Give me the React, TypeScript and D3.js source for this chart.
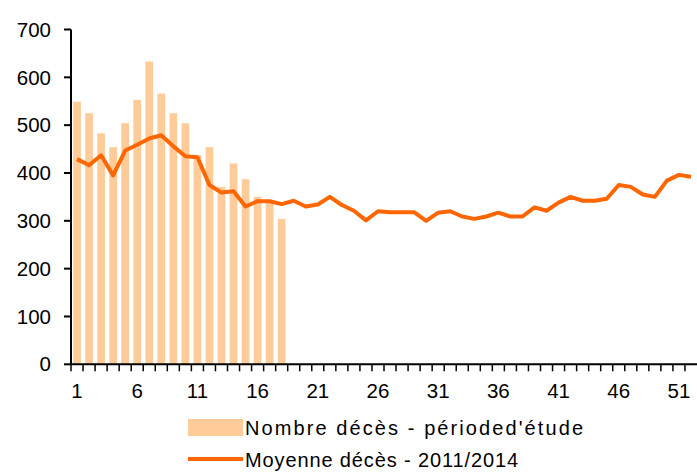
import React from "react";
import * as d3 from "d3";

const weeks: number[] = Array.from({ length: 52 }, (_, i) => i + 1);
const barValues: number[] = [549, 525, 483, 454, 504, 553, 633, 566, 525, 504, 437, 454, 371, 420, 387, 350, 340, 304];
const lineValues: number[] = [
  429, 416, 437, 395, 447, 459, 472, 479, 456, 435,
  433, 375, 359, 362, 330, 341, 341, 335, 342, 330,
  334, 350, 333, 321, 301, 320, 318, 318, 318, 300,
  317, 320, 309, 304, 309, 317, 309, 309, 328, 321,
  338, 350, 342, 342, 346, 375, 371, 355, 350, 384,
  396, 392,
];
const yTicks: number[] = [0, 100, 200, 300, 400, 500, 600, 700];
const xLabelWeeks: number[] = [1, 6, 11, 16, 21, 26, 31, 36, 41, 46, 51];
const barLabel = "Nombre décès - périoded'étude";
const lineLabel = "Moyenne décès - 2011/2014";

export default function App() {
  const W = 697, H = 472;
  const left = 71, right = 697, top = 29.5, bottom = 364.3;
  const x = d3.scaleBand<number>().domain(weeks).range([left, right]).paddingInner(0.36).paddingOuter(0.18);
  const step = x.step();
  const y = d3.scaleLinear().domain([0, 700]).range([bottom, top]);
  const line = d3.line<number>().x((_, i) => left + step * (i + 0.5)).y((v) => y(v));
  const font = "'Liberation Sans', Arial, sans-serif";
  return (
    <svg width={W} height={H} style={{ position: "absolute", left: 0, top: 0 }} fontFamily={font}>
      {barValues.map((v, i) => (
        <rect key={i} x={x(weeks[i])} y={y(v)} width={x.bandwidth()} height={y(0) - y(v)} fill="#FFCC99" />
      ))}
      <path d={line(lineValues) || ""} fill="none" stroke="#FF6600" strokeWidth={4} strokeLinejoin="round" />
      <line x1={left} x2={left} y1={top} y2={bottom} stroke="#000" strokeWidth={2} />
      <line x1={left} x2={right} y1={bottom} y2={bottom} stroke="#000" strokeWidth={2} />
      {yTicks.map((t) => (
        <g key={t}>
          <line x1={left - 7} x2={left} y1={y(t)} y2={y(t)} stroke="#000" strokeWidth={2} />
          <text x={51} y={y(t)} dy="0.35em" textAnchor="end" fontSize={20.5} fill="#000">{t}</text>
        </g>
      ))}
      {weeks.map((w, i) => (
        <line key={w} x1={left + step * i} x2={left + step * i} y1={bottom} y2={bottom + 7} stroke="#000" strokeWidth={1.5} />
      ))}
      {xLabelWeeks.map((w) => (
        <text key={w} x={left + step * (w - 0.5)} y={391} dy="0.35em" textAnchor="middle" fontSize={20.5} fill="#000">{w}</text>
      ))}
      <rect x={188} y={419} width={55} height={17} fill="#FFCC99" />
      <text x={245} y={427.5} dy="0.35em" fontSize={20} fill="#000" textLength={338} lengthAdjust="spacing">{barLabel}</text>
      <line x1={188} x2={243} y1={459} y2={459} stroke="#FF6600" strokeWidth={4} />
      <text x={245} y={459.5} dy="0.35em" fontSize={20} fill="#000" textLength={273} lengthAdjust="spacing">{lineLabel}</text>
    </svg>
  );
}
